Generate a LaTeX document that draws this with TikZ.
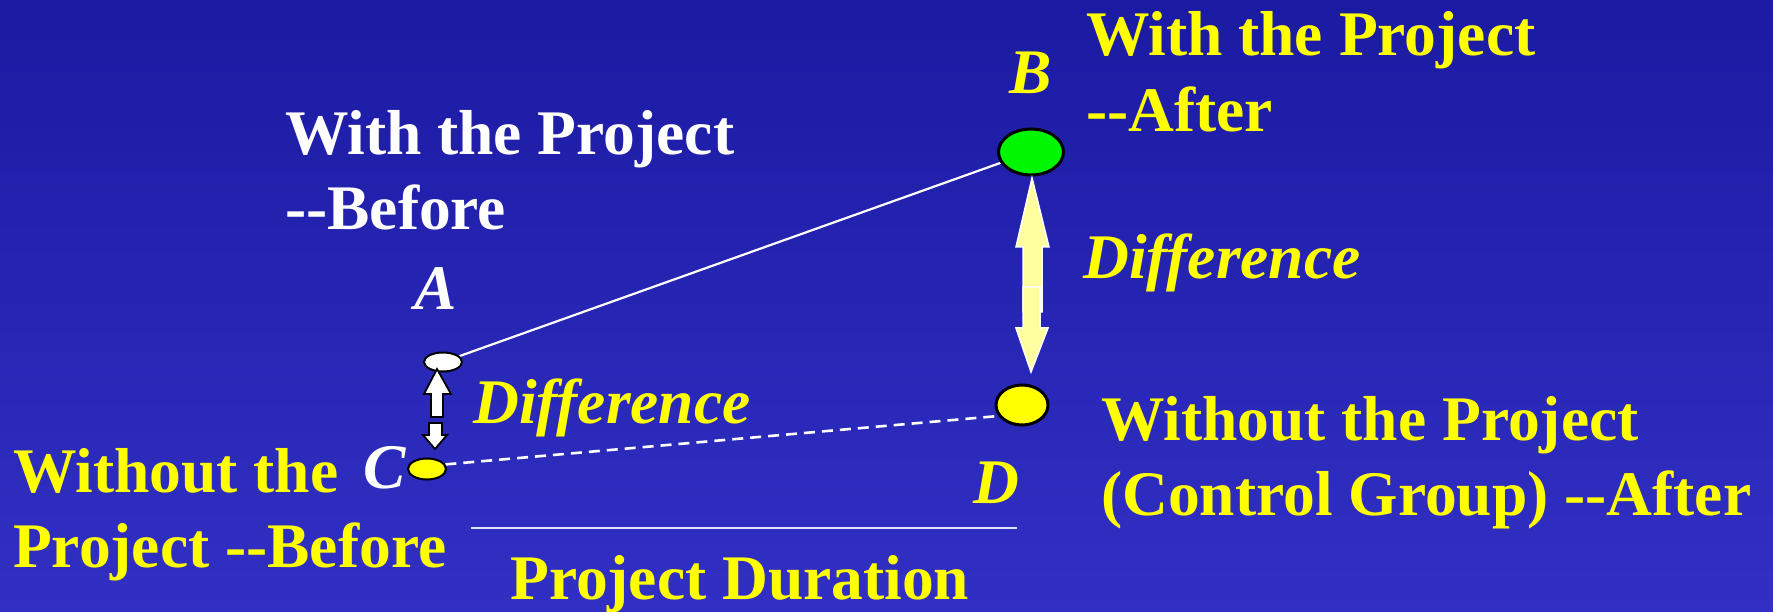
\documentclass[tikz,border=0pt]{standalone}
\usepackage{fontspec}
\setmainfont{Liberation Serif}
\usetikzlibrary{shapes.geometric}
\pgfdeclarelayer{back}
\pgfdeclarelayer{mid}
\pgfsetlayers{back,mid,main}
\definecolor{bgtop}{RGB}{27,26,162}
\definecolor{bgbot}{RGB}{50,48,196}
\definecolor{ptyellow}{RGB}{255,255,0}
\definecolor{ptgreen}{RGB}{0,245,0}
\definecolor{lightyel}{RGB}{255,255,160}
\definecolor{hline}{RGB}{225,225,255}
\newcommand\dd{\mbox{-}\mbox{-}}
\begin{document}
\begin{tikzpicture}[x=1pt,y=-1pt,
  lbl/.style={anchor=base west,inner sep=0pt,font=\fontsize{63.5}{75}\selectfont\bfseries},
  ilbl/.style={lbl,font=\fontsize{63.5}{75}\selectfont\bfseries\itshape},
  dot/.style={ellipse,draw=black,inner sep=0pt},
  blockw/.style={fill=white,draw=black,line width=1.8pt,line join=miter},
  blocky/.style={fill=lightyel,draw=white,line width=1.5pt,line join=miter}]
\useasboundingbox (0,0) rectangle (1773,612);
\begin{pgfonlayer}{back}
\shade[top color=bgtop,bottom color=bgbot] (0,0) rectangle (1773,612);
\end{pgfonlayer}

% points
\node[dot,fill=white,line width=2pt,minimum width=38pt,minimum height=19pt] (A) at (443,362) {};
\node[dot,fill=ptyellow,line width=2pt,minimum width=38pt,minimum height=21pt] (C) at (427,469) {};
\node[dot,fill=ptgreen,line width=3pt,minimum width=65pt,minimum height=46pt] (B) at (1031,152) {};
\node[dot,fill=ptyellow,line width=3pt,minimum width=52pt,minimum height=40pt] (D) at (1022,405) {};

% connectors
\begin{pgfonlayer}{mid}
\draw[white,line width=2.2pt] (A) -- (B);
\draw[white,line width=2.6pt,dash pattern=on 11pt off 7pt] (C.14) -- (D.205);
\end{pgfonlayer}

% duration line
\coordinate (durL) at (471,528);
\coordinate (durR) at (1017,528);
\draw[hline,line width=2.4pt] (durL) -- (durR);

% small difference arrows
\draw[blockw] (437,369) -- (451,394) -- (443,394) -- (443,417) -- (431,417) -- (431,394) -- (424,394) -- cycle;
\draw[blockw] (429,423) -- (442,423) -- (442,435) -- (447,435) -- (435,449) -- (423,435) -- (429,435) -- cycle;

% big difference arrows
\draw[blocky] (1032,178) -- (1049,247) -- (1042,247) -- (1042,312) -- (1023,312) -- (1023,247) -- (1016,247) -- cycle;
\draw[blocky] (1023,287) -- (1040,287) -- (1040,328) -- (1048,328) -- (1031,372) -- (1016,328) -- (1023,328) -- cycle;

% texts
\node[lbl,text=white] (tl1) at (285,155) {With the Project};
\node[lbl,text=white] (tl2) at (285,230) {\dd Before};
\node[lbl,text=ptyellow] (tr1) at (1086,56) {With the Project};
\node[lbl,text=ptyellow] (tr2) at (1086,132) {\dd After};
\node[lbl,text=ptyellow] (bl1) at (13,492) {Without the};
\node[lbl,text=ptyellow] (bl2) at (13,567) {Project \dd Before};
\node[lbl,text=ptyellow] (br1) at (1101,440) {Without the Project};
\node[lbl,text=ptyellow] (br2) at (1101,515) {(Control Group) \dd After};
\node[lbl,text=ptyellow] (dur) at (510,599) {Project Duration};

\node[ilbl,text=white] (lA) at (414,310) {A};
\node[ilbl,text=ptyellow] (lB) at (1009,94) {B};
\node[ilbl,text=white] (lC) at (363,488) {C};
\node[ilbl,text=ptyellow] (lD) at (973,503) {D};
\node[ilbl,text=ptyellow] (dif1) at (1083,279) {Difference};
\node[ilbl,text=ptyellow] (dif2) at (473,423) {Difference};
\end{tikzpicture}
\end{document}
